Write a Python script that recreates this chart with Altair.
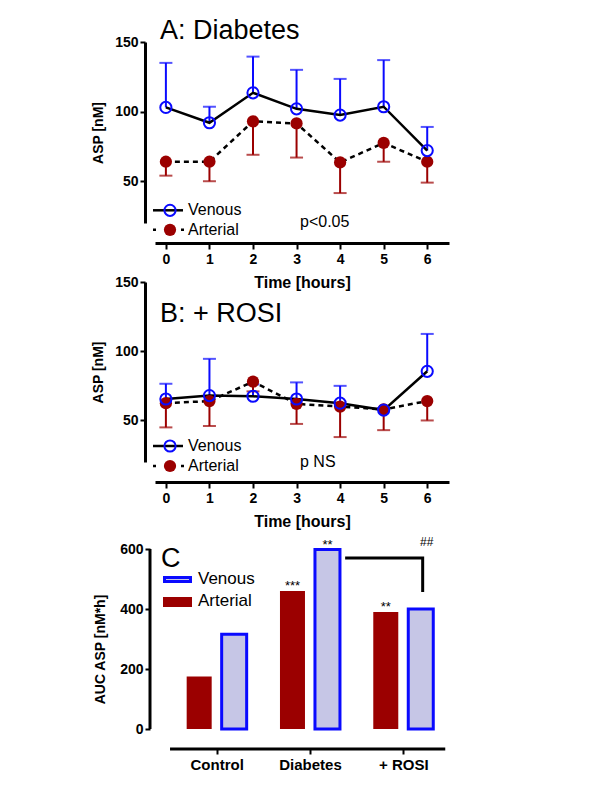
import altair as alt
import pandas as pd

FONT = "Liberation Sans"
BLUE = "#0a0aff"
RED = "#9b0000"
LAV = "#c6c6e6"

hours = [0, 1, 2, 3, 4, 5, 6]

# Panel A: Diabetes
a_ven_mean = [103, 92, 113.5, 102, 97.5, 103.5, 72]
a_ven_upper = [135, 103.5, 139.5, 130, 123.5, 137, 89]
a_art_mean = [64, 64, 93, 91.5, 63.5, 77.5, 64]
a_art_lower = [54, 50, 69, 67, 41.5, 64, 49]

# Panel B: + ROSI
b_ven_mean = [65.5, 68, 67.5, 65.5, 62.5, 57.5, 85.5]
b_ven_upper = [76.5, 94.5, 76, 77.5, 75, 59, 112.5]
b_art_mean = [62.5, 64, 78, 62, 60, 58, 64]
b_art_lower = [45, 46, 71, 47.5, 38, 43, 50]

# Panel C: AUC
groups = ["Control", "Diabetes", "+ ROSI"]
auc_arterial = [175, 460, 390]
auc_venous = [316, 598, 400]
star_labels = [("Diabetes", "Arterial", "***"), ("Diabetes", "Venous", "**"), ("+ ROSI", "Arterial", "**")]
hash_label = ("+ ROSI", "Venous", "##")
hash_y = 611
bracket_x = [1.393, 2.208, 2.208]
bracket_y = [570, 570, 462]

W = 294


def axis_style(**kw):
    base = dict(grid=False, domainWidth=3, domainColor="black", tickWidth=2,
                tickColor="black", labelFont=FONT, labelFontWeight="bold",
                labelFontSize=14, labelColor="black", titleFont=FONT,
                titleFontWeight="bold", titleColor="black")
    base.update(kw)
    return alt.Axis(**base)


def one():
    return alt.Chart(pd.DataFrame({"k": [0]}))


def time_panel(title, vm, vu, am, al, ptext, H, title_y, leg_y1, leg_y2, p_y):
    df = pd.DataFrame({"hour": hours, "vm": vm, "vu": vu, "am": am, "al": al})
    xs = alt.Scale(domain=[-0.25, 6.5], nice=False, zero=False)
    ys = alt.Scale(domain=[20, 150], nice=False, zero=False)
    xax = axis_style(values=hours, offset=20, title="Time [hours]", tickSize=6,
                     labelPadding=3, titleFontSize=16, titlePadding=8)
    yax = axis_style(values=[50, 100, 150], offset=10, title="ASP [nM]", tickSize=5,
                     labelPadding=2, titleFontSize=14, titlePadding=9)
    X = alt.X("hour:Q", scale=xs, axis=xax)

    def Y(f):
        return alt.Y(f + ":Q", scale=ys, axis=yax)

    base = alt.Chart(df)
    ven_err = base.mark_rule(color=BLUE, strokeWidth=2).encode(x=X, y=Y("vm"), y2="vu:Q")
    ven_cap = base.mark_tick(color=BLUE, orient="horizontal", size=13, thickness=2).encode(x=X, y=Y("vu"))
    art_err = base.mark_rule(color=RED, strokeWidth=2).encode(x=X, y=Y("am"), y2="al:Q")
    art_cap = base.mark_tick(color=RED, orient="horizontal", size=13, thickness=2).encode(x=X, y=Y("al"))
    art_line = base.mark_line(color="black", strokeWidth=2.5, strokeDash=[5, 4]).encode(x=X, y=Y("am"))
    ven_line = base.mark_line(color="black", strokeWidth=2.5).encode(x=X, y=Y("vm"))
    art_pts = base.mark_point(filled=True, color=RED, size=150, opacity=1, shape="circle").encode(x=X, y=Y("am"))
    ven_pts = base.mark_point(filled=False, color=BLUE, size=125, strokeWidth=2, opacity=1, shape="circle").encode(x=X, y=Y("vm"))

    leg_v_line = one().mark_rule(color="black", strokeWidth=2.5).encode(
        x=alt.value(-2), x2=alt.value(28), y=alt.value(leg_y1))
    leg_a_line = one().mark_rule(color="black", strokeWidth=2.5, strokeDash=[3, 11]).encode(
        x=alt.value(-2), x2=alt.value(29), y=alt.value(leg_y2))
    leg_v_pt = one().mark_point(filled=False, color=BLUE, size=125, strokeWidth=2, opacity=1, shape="circle").encode(
        x=alt.value(15), y=alt.value(leg_y1))
    leg_a_pt = one().mark_point(filled=True, color=RED, size=150, opacity=1, shape="circle").encode(
        x=alt.value(15), y=alt.value(leg_y2))
    leg_v_txt = one().mark_text(align="left", baseline="middle", font=FONT, fontSize=16, color="black").encode(
        x=alt.value(33), y=alt.value(leg_y1), text=alt.value("Venous"))
    leg_a_txt = one().mark_text(align="left", baseline="middle", font=FONT, fontSize=16, color="black").encode(
        x=alt.value(33), y=alt.value(leg_y2), text=alt.value("Arterial"))
    title_txt = one().mark_text(align="left", baseline="alphabetic", font=FONT, fontSize=27, color="black").encode(
        x=alt.value(5), y=alt.value(title_y), text=alt.value(title))
    p_txt = one().mark_text(align="left", baseline="middle", font=FONT, fontSize=16, color="black").encode(
        x=alt.value(145), y=alt.value(p_y), text=alt.value(ptext))

    return alt.layer(ven_err, ven_cap, art_err, art_cap, art_line, ven_line, art_pts, ven_pts,
                     leg_v_line, leg_a_line, leg_v_pt, leg_a_pt, leg_v_txt, leg_a_txt,
                     title_txt, p_txt).properties(width=W, height=H)


panel_a = time_panel("A: Diabetes", a_ven_mean, a_ven_upper, a_art_mean, a_art_lower,
                     "p<0.05", 181, -3, 168.3, 187.8, 180.3)
panel_b = time_panel("B: + ROSI", b_ven_mean, b_ven_upper, b_art_mean, b_art_lower,
                     "p NS", 180, 40.3, 164, 184, 180)

# Panel C
HC = 208
OFF = 0.1875
HALF = 0.134
rows = []
for i, g in enumerate(groups):
    rows.append({"group": g, "idx": i, "series": "Arterial", "auc": auc_arterial[i],
                 "xc": i - OFF})
    rows.append({"group": g, "idx": i, "series": "Venous", "auc": auc_venous[i],
                 "xc": i + OFF})
bars = pd.DataFrame(rows)
bars["x0"] = bars["xc"] - HALF
bars["x1"] = bars["xc"] + HALF

ann_rows = []
for g, s, lab in star_labels:
    r = bars[(bars.group == g) & (bars.series == s)].iloc[0]
    ann_rows.append({"x": r.xc, "y": r.auc, "label": lab})
ann = pd.DataFrame(ann_rows)
hr = bars[(bars.group == hash_label[0]) & (bars.series == hash_label[1])].iloc[0]
hash_df = pd.DataFrame({"x": [hr.xc], "y": [hash_y], "label": [hash_label[2]]})
bracket = pd.DataFrame({"bx": bracket_x, "by": bracket_y, "o": [0, 1, 2]})

cxs = alt.Scale(domain=[-0.661, -0.661 + W / 93.3], nice=False, zero=False)
cys = alt.Scale(domain=[0, HC / 0.3], nice=False, zero=False)
label_expr = " : ".join(f"datum.value == {i} ? '{g}'" for i, g in enumerate(groups)) + " : ''"
cxax = axis_style(values=[0, 1, 2], offset=20, domain=False, tickSize=5, labelFontSize=15,
                  labelPadding=3, labelExpr=label_expr, title=None)
cyax = axis_style(values=[0, 200, 400, 600], offset=5, domain=False, tickSize=5, labelPadding=2,
                  title="AUC ASP [nM*h]", titleFontSize=14, titlePadding=12, titleY=128)

art_bars = alt.Chart(bars).transform_filter(alt.datum.series == "Arterial").mark_bar(
    color=RED, opacity=1).encode(
    x=alt.X("x0:Q", scale=cxs, axis=cxax), x2="x1:Q",
    y=alt.Y("auc:Q", scale=cys, axis=cyax), y2=alt.datum(0))
ven_bars = alt.Chart(bars).transform_filter(alt.datum.series == "Venous").mark_bar(
    fill=LAV, stroke=BLUE, strokeWidth=3, opacity=1).encode(
    x=alt.X("x0:Q", scale=cxs, axis=cxax), x2="x1:Q",
    y=alt.Y("auc:Q", scale=cys, axis=cyax), y2=alt.datum(0))
y_line = one().mark_rule(color="black", strokeWidth=3).encode(
    x=alt.value(-5), y=alt.datum(0), y2=alt.datum(600))
x_line = one().mark_rule(color="black", strokeWidth=3).encode(
    x=alt.datum(-0.5), x2=alt.datum(2.45), y=alt.value(HC + 20))
stars = alt.Chart(ann).mark_text(baseline="alphabetic", dy=-1, font=FONT, fontSize=13, color="black").encode(
    x="x:Q", y="y:Q", text="label:N")
hashes = alt.Chart(hash_df).mark_text(baseline="alphabetic", dx=6, font=FONT, fontSize=12, color="#000000").encode(
    x="x:Q", y="y:Q", text="label:N")
br = alt.Chart(bracket).mark_line(color="black", strokeWidth=3, strokeCap="square", strokeJoin="miter").encode(
    x="bx:Q", y="by:Q", order="o:Q")
c_txt = one().mark_text(align="left", baseline="alphabetic", font=FONT, fontSize=27, color="black").encode(
    x=alt.value(6), y=alt.value(46.3), text=alt.value("C"))
sw_v = one().mark_rect(fill=LAV, stroke=BLUE, strokeWidth=3).encode(
    x=alt.value(9.5), x2=alt.value(35.5), y=alt.value(56.5), y2=alt.value(60.5))
sw_a = one().mark_rect(fill=RED).encode(
    x=alt.value(8), x2=alt.value(37), y=alt.value(76), y2=alt.value(86))
t_v = one().mark_text(align="left", baseline="middle", font=FONT, fontSize=17, color="black").encode(
    x=alt.value(43), y=alt.value(58.3), text=alt.value("Venous"))
t_a = one().mark_text(align="left", baseline="middle", font=FONT, fontSize=17, color="black").encode(
    x=alt.value(43), y=alt.value(80.3), text=alt.value("Arterial"))

panel_c = alt.layer(art_bars, ven_bars, y_line, x_line, stars, hashes, br, c_txt,
                    sw_v, sw_a, t_v, t_a).properties(width=W, height=HC)

chart = alt.vconcat(panel_a, panel_b, panel_c, spacing=59, bounds="flush").properties(
    padding={"left": 83, "top": 9, "right": 5, "bottom": 5}
).configure(font=FONT, background="white").configure_view(stroke=None)

chart.save("out.html", embed_options={"renderer": "svg", "actions": False})
